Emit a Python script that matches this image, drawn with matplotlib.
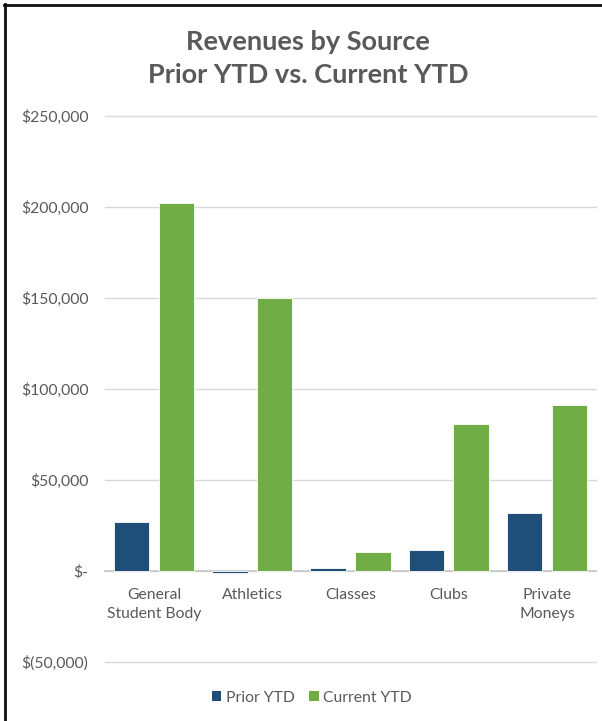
import matplotlib
matplotlib.use("Agg")
import matplotlib.pyplot as plt
import numpy as np
from matplotlib.lines import Line2D
from matplotlib.patches import Patch
from matplotlib.ticker import FuncFormatter

categories = ["General\nStudent Body", "Athletics", "Classes", "Clubs", "Private\nMoneys"]
prior_ytd = [26600, -1400, 1300, 11400, 31900]
current_ytd = [202200, 149800, 10300, 80600, 91100]
series_names = ["Prior YTD", "Current YTD"]
y_ticks = [-50000, 0, 50000, 100000, 150000, 200000, 250000]

BLUE = "#1F4E79"
GREEN = "#70AD47"
TEXT = "#595959"
GRID = "#D9D9D9"
LABEL_SIZE = 11.3

plt.rcParams["font.family"] = ["Lato", "DejaVu Sans"]

fig = plt.figure(figsize=(6.02, 7.21), dpi=100)
ax = fig.add_axes([0.1744, 0.0824, 0.8156, 0.7571])

x = np.arange(len(categories))
w = 0.36
off = 0.228
ax.bar(x - off, prior_ytd, w, color=BLUE, edgecolor="white", linewidth=0.6, zorder=3)
ax.bar(x + off, current_ytd, w, color=GREEN, edgecolor="white", linewidth=0.6, zorder=3)

ax.set_xlim(-0.5, len(categories) - 0.5)
ax.set_ylim(-50000, 250000)
ax.set_yticks(y_ticks)


def money(v, _pos):
    if v == 0:
        return "$-"
    if v < 0:
        return "$({:,.0f})".format(-v)
    return "${:,.0f}".format(v)


ax.yaxis.set_major_formatter(FuncFormatter(money))
ax.set_xticks(x)
ax.set_xticklabels([])
ax.tick_params(axis="both", length=0, labelsize=LABEL_SIZE, colors=TEXT)
ax.tick_params(axis="y", pad=12)

# category names hang just below the zero line
for xi, name in zip(x, categories):
    ax.annotate(name, xy=(xi, 0), xycoords="data", xytext=(0, -12.5),
                textcoords="offset points", ha="center", va="top",
                fontsize=LABEL_SIZE, color=TEXT, linespacing=1.5)

ax.yaxis.grid(True, color=GRID, linewidth=1.0, zorder=0)
for gl in ax.get_ygridlines():
    gl.set_clip_on(False)
for name in ("top", "right", "left"):
    ax.spines[name].set_visible(False)
# category axis crosses at zero
ax.spines["bottom"].set_position(("data", 0))
ax.spines["bottom"].set_color("#C8C8C8")
ax.spines["bottom"].set_linewidth(1.2)
ax.spines["bottom"].set_zorder(2)

fig.text(0.512, 1 - 42 / 721, "Revenues by Source", ha="center", va="center",
         fontsize=19.5, fontweight="bold", color=TEXT)
fig.text(0.512, 1 - 75 / 721, "Prior YTD vs. Current YTD", ha="center", va="center",
         fontsize=19.5, fontweight="bold", color=TEXT)

handles = [Patch(facecolor=BLUE, edgecolor="none"), Patch(facecolor=GREEN, edgecolor="none")]
fig.legend(handles, series_names, loc="center", bbox_to_anchor=(312 / 602, 1 - 698 / 721),
           ncol=2, frameon=False, fontsize=LABEL_SIZE, labelcolor=TEXT,
           handlelength=0.6, handleheight=0.6, handletextpad=0.3, columnspacing=0.9)

# frame edges along the top and left
fig.add_artist(Line2D([4 / 602, 1.0], [1 - 5.3 / 721] * 2, transform=fig.transFigure,
                      color="#111111", linewidth=2.0))
fig.add_artist(Line2D([5.3 / 602] * 2, [0.0, 1 - 4 / 721], transform=fig.transFigure,
                      color="#111111", linewidth=2.0))

fig.savefig("out.png", dpi=100)
